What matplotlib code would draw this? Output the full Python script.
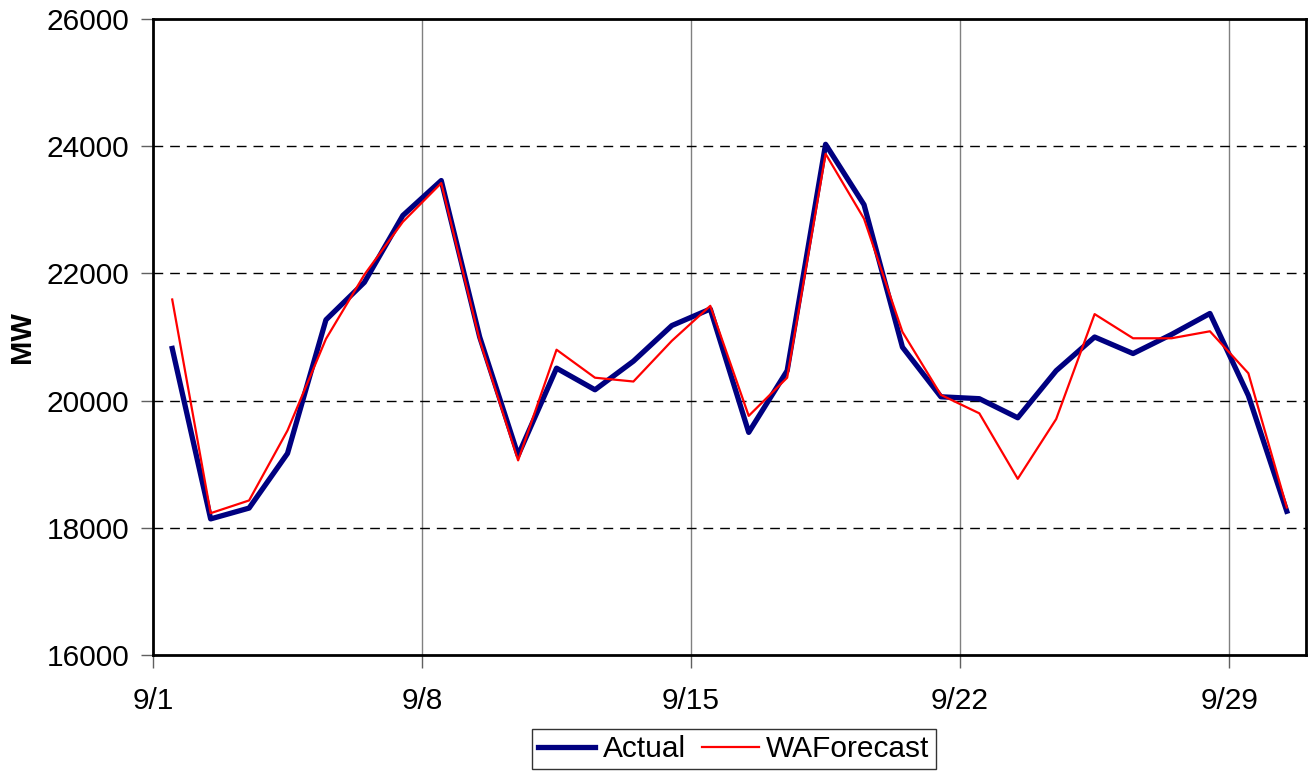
import numpy as np
import matplotlib.pyplot as plt

plt.rcParams['font.family'] = ['Liberation Sans', 'DejaVu Sans']

# daily values, 9/1 .. 9/30
days = [f"9/{d}" for d in range(1, 31)]
actual = [20820, 18140, 18310, 19170, 21270, 21860, 22910, 23460, 21000, 19140,
          20510, 20170, 20620, 21180, 21440, 19500, 20470, 24030, 23080, 20840,
          20060, 20030, 19730, 20470, 21000, 20740, 21040, 21370, 20080, 18260]
forecast = [21590, 18230, 18430, 19530, 20970, 21980, 22810, 23420, 20950, 19060,
            20800, 20360, 20300, 20940, 21490, 19760, 20360, 23880, 22860, 21080,
            20090, 19800, 18770, 19710, 21360, 20980, 20980, 21090, 20430, 18320]
week_labels = ["9/1", "9/8", "9/15", "9/22", "9/29"]

fig = plt.figure(figsize=(13.15, 7.76), dpi=100)
ax = fig.add_axes([153 / 1315, 1 - 655 / 776, (1306 - 153) / 1315, (655 - 19) / 776])

x = np.arange(len(days))
ax.plot(x, actual, color='#000080', lw=3.8, label='Actual', zorder=3)
ax.plot(x, forecast, color='#ff0000', lw=1.6, label='WAForecast', zorder=4)

ax.set_xlim(-0.5, len(days) - 0.5)
ax.set_ylim(16000, 26000)
ax.set_yticks(range(16000, 26001, 2000))
week_pos = np.arange(-0.5, len(days), 7)
ax.set_xticks(week_pos)
ax.set_xticklabels(week_labels)

# gridlines
for p in week_pos[1:]:
    ax.axvline(p, color='#808080', lw=1.0, zorder=1)
for v in range(18000, 26000, 2000):
    ax.axhline(v, color='black', lw=1.0, ls=(0, (7, 5)), zorder=1)

for s in ax.spines.values():
    s.set_linewidth(2.0)
    s.set_color('black')
ax.tick_params(axis='both', direction='out', length=9, width=1.0, color='#606060',
               labelsize=21.5, pad=8)
ax.tick_params(axis='x', pad=14)

ax.set_ylabel('MW', fontsize=21, fontweight='bold')
ax.yaxis.set_label_coords((36 - 153) / 1153, 0.5)

leg = fig.legend(loc='center', bbox_to_anchor=(734 / 1315, 1 - 749 / 776), ncol=2,
                 fontsize=21.5, frameon=True, fancybox=False, edgecolor='black',
                 handlelength=1.9, columnspacing=0.55, handletextpad=0.25,
                 borderpad=0.2, borderaxespad=0)
leg.get_frame().set_linewidth(1.0)

fig.savefig('out.png', dpi=100)
